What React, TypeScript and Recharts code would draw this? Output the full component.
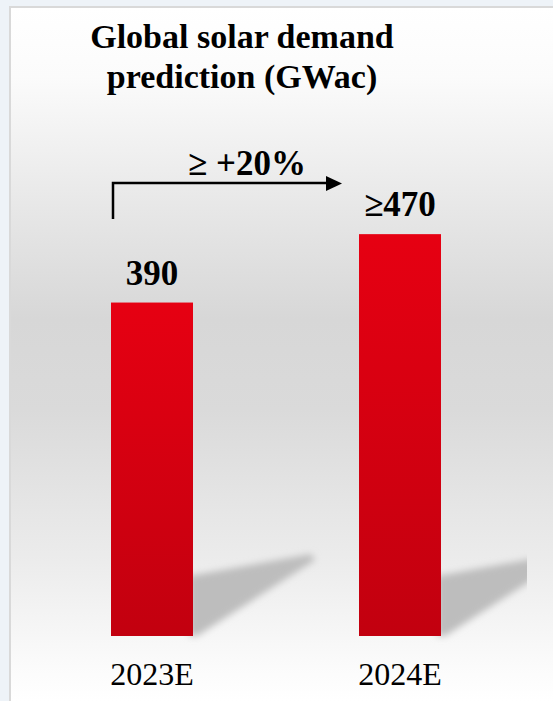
import { Bar, BarChart, LabelList, XAxis, YAxis } from "recharts";

// 年ごとの需要予測 (GWac)
const years = ["2023E", "2024E"];
const demand = [390, 470];
const demandLabels = ["390", "≥470"];

const chartData = years.map((year, i) => ({
  year,
  value: demand[i],
  label: demandLabels[i],
}));

const SERIF = "'Liberation Serif', 'DejaVu Serif', serif";

// バーと影を描くカスタムシェイプ
const ShadowBar = (props: any) => {
  const { x, y, width, height } = props;
  const bottom = y + height;
  const right = x + width;
  const shadow = [
    [right - 4, bottom - 60],
    [right + 118, bottom - 82],
    [right + 122, bottom - 76],
    [right + 4, bottom],
    [right - 4, bottom],
  ]
    .map((p) => p.join(","))
    .join(" ");
  return (
    <g>
      <polygon
        points={shadow}
        fill="#bdbdbd"
        filter="url(#shadowBlur)"
        clipPath="url(#shadowClip)"
      />
      <rect x={x} y={y} width={width} height={height} fill="url(#barFill)" />
    </g>
  );
};

export default function App() {
  return (
    <div
      style={{
        position: "absolute",
        left: 0,
        top: 0,
        width: 553,
        height: 701,
        background: "#eef3f8",
        overflow: "hidden",
        fontFamily: SERIF,
      }}
    >
      {/* パネル背景 */}
      <div
        style={{
          position: "absolute",
          left: 9,
          top: 6,
          width: 544,
          height: 695,
          borderLeft: "2px solid #d9d9d9",
          borderTop: "2px solid #d9d9d9",
          boxSizing: "border-box",
          background:
            "linear-gradient(to bottom, #ffffff 0%, #fbfbfb 10%, #e6e6e6 30%, #d7d7d7 45%, #dadada 58%, #ececec 80%, #fbfbfb 95%, #ffffff 100%)",
        }}
      />
      <div style={{ position: "absolute", left: 0, top: 0 }}>
        <BarChart
          width={553}
          height={701}
          data={chartData}
          margin={{ top: 123, right: 29, bottom: 15, left: 28 }}
          style={{ fontFamily: SERIF }}
        >
          <defs>
            <linearGradient id="barFill" x1="0" y1="0" x2="0" y2="1">
              <stop offset="0%" stopColor="#e60012" />
              <stop offset="100%" stopColor="#c2000f" />
            </linearGradient>
            <filter id="shadowBlur" x="-20%" y="-20%" width="140%" height="140%">
              <feGaussianBlur stdDeviation="3.5" />
            </filter>
            <clipPath id="shadowClip">
              <rect x={0} y={0} width={527} height={701} />
            </clipPath>
          </defs>
          <XAxis
            dataKey="year"
            axisLine={false}
            tickLine={false}
            height={50}
            tickMargin={20}
            tick={{ fill: "#000", fontSize: 32, style: { fontFamily: SERIF } }}
          />
          <YAxis hide domain={[0, 600]} />
          <Bar
            dataKey="value"
            barSize={82}
            shape={<ShadowBar />}
            isAnimationActive={false}
          >
            <LabelList
              dataKey="label"
              position="top"
              offset={18}
              fill="#000"
              fontSize={35}
              fontWeight="bold"
              style={{ fontFamily: SERIF }}
            />
          </Bar>
        </BarChart>
      </div>
      {/* タイトルと成長率の矢印 */}
      <svg
        width={553}
        height={701}
        style={{
          position: "absolute",
          left: 0,
          top: 0,
          pointerEvents: "none",
          fontFamily: SERIF,
        }}
      >
        <text
          x={242}
          y={48}
          textAnchor="middle"
          fontWeight="bold"
          fontSize={34}
          fill="#000"
        >
          Global solar demand
        </text>
        <text
          x={242}
          y={88}
          textAnchor="middle"
          fontWeight="bold"
          fontSize={34}
          fill="#000"
        >
          prediction (GWac)
        </text>
        <text
          x={247}
          y={175}
          textAnchor="middle"
          fontWeight="bold"
          fontSize={35}
          fill="#000"
        >
          ≥ +20%
        </text>
        <polyline
          points="113,219 113,183 328,183"
          fill="none"
          stroke="#000"
          strokeWidth={2.5}
        />
        <polygon points="326,176 342,183.5 326,191" fill="#000" />
      </svg>
    </div>
  );
}
